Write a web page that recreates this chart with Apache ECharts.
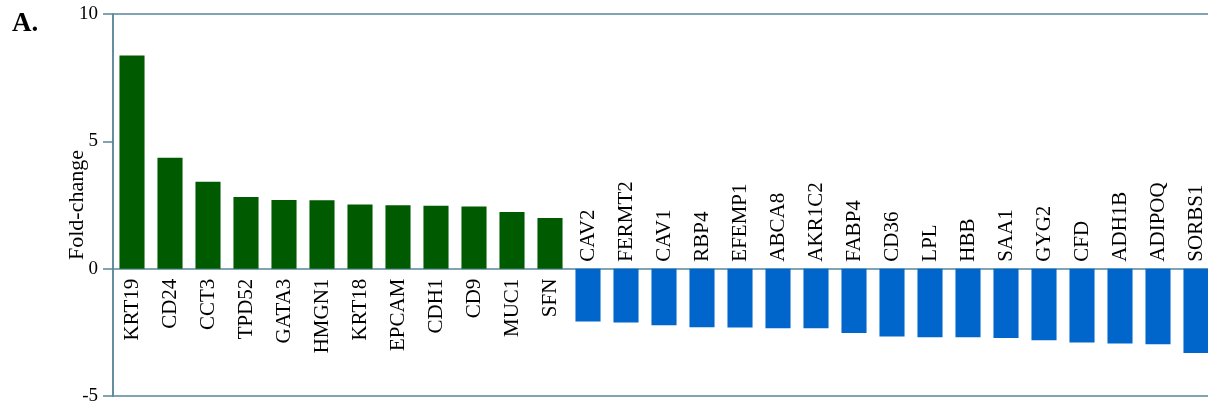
<!DOCTYPE html>
<html>
<head>
<meta charset="utf-8">
<script src="https://cdn.jsdelivr.net/npm/echarts@6/dist/echarts.min.js"></script>
<style>
html,body{margin:0;padding:0;background:#fff;}
#chart{width:1208px;height:406px;}
</style>
</head>
<body>
<div id="chart"></div>
<script>
const categories = ['KRT19','CD24','CCT3','TPD52','GATA3','HMGN1','KRT18','EPCAM','CDH1','CD9','MUC1','SFN',
  'CAV2','FERMT2','CAV1','RBP4','EFEMP1','ABCA8','AKR1C2','FABP4','CD36','LPL','HBB','SAA1','GYG2','CFD','ADH1B','ADIPOQ','SORBS1'];
const foldChange = [8.37,4.36,3.41,2.81,2.70,2.69,2.52,2.49,2.47,2.44,2.23,1.99,
  -2.07,-2.11,-2.22,-2.30,-2.31,-2.34,-2.34,-2.53,-2.66,-2.69,-2.69,-2.72,-2.81,-2.90,-2.94,-2.97,-3.31];
const yTicks = [-5, 0, 5, 10];
const panelLabel = 'A.';
const yTitle = 'Fold-change';

const upValues = foldChange.map(v => v > 0 ? v : '-');
const downValues = foldChange.map(v => v < 0 ? v : '-');

const UP = '#005a00', DOWN = '#0066cc', AXIS = '#58879a';
const FONT = '"Liberation Serif", "Times New Roman", serif';

const chart = echarts.init(document.getElementById('chart'), null, {renderer: 'canvas'});
chart.setOption({
  animation: false,
  backgroundColor: '#fff',
  graphic: [{
    type: 'text', left: 12, top: 11,
    style: {text: panelLabel, font: 'bold 27px ' + FONT, fill: '#000'}
  }],
  grid: {
    left: 113, right: -7, top: 14, bottom: 10,
    outerBoundsMode: 'none', containLabel: false,
    show: true, borderColor: AXIS, borderWidth: 1.5, backgroundColor: 'transparent'
  },
  xAxis: {
    type: 'category', data: categories,
    axisLine: {onZero: true, lineStyle: {color: AXIS, width: 1.5}},
    axisTick: {show: false},
    axisLabel: {show: false}
  },
  yAxis: {
    type: 'value', min: yTicks[0], max: yTicks[yTicks.length - 1], interval: yTicks[1] - yTicks[0],
    name: yTitle, nameLocation: 'middle', nameGap: 25, nameMoveOverlap: false,
    nameTextStyle: {fontSize: 22, fontFamily: FONT, color: '#000'},
    axisLine: {show: true, onZero: false, lineStyle: {color: AXIS, width: 1.5}},
    axisTick: {show: true, length: 10, lineStyle: {color: AXIS, width: 1.5}},
    axisLabel: {margin: 15, fontSize: 19, fontFamily: FONT, color: '#000'},
    splitLine: {show: false}
  },
  series: [{
    type: 'bar', data: upValues, barWidth: '66%', barGap: '-100%',
    itemStyle: {color: UP},
    label: {
      show: true, position: 'bottom', distance: 10, rotate: 90,
      align: 'right', verticalAlign: 'middle',
      formatter: p => categories[p.dataIndex],
      fontSize: 21, fontFamily: FONT, color: '#000'
    }
  }, {
    type: 'bar', data: downValues, barWidth: '66%', barGap: '-100%',
    itemStyle: {color: DOWN},
    label: {
      show: true, position: 'top', distance: 7, rotate: 90,
      align: 'left', verticalAlign: 'middle',
      formatter: p => categories[p.dataIndex],
      fontSize: 21, fontFamily: FONT, color: '#000'
    }
  }]
});
</script>
</body>
</html>
